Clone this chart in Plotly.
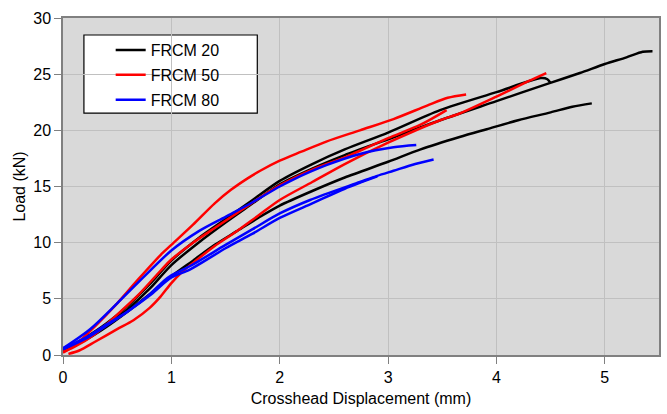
import plotly.graph_objects as go

# FRCM 20 (black) specimens
b1_x = [0, 0.2, 0.4, 0.6, 0.8, 1.0, 1.25, 1.5, 1.75, 2.0, 2.3, 2.6, 3.0, 3.48, 4.0, 4.49, 4.77, 5.0, 5.2, 5.35, 5.44]
b1_y = [0.5, 1.4, 2.6, 4.1, 5.9, 8.0, 10.0, 11.8, 13.5, 15.2, 16.6, 17.8, 19.2, 20.9, 22.6, 24.2, 25.1, 25.9, 26.5, 27.0, 27.05]
b2_x = [0, 0.2, 0.4, 0.6, 0.8, 1.0, 1.2, 1.4, 1.6, 1.8, 2.0, 2.3, 2.6, 3.0, 3.3, 3.66, 3.91, 4.2, 4.5, 4.7, 4.88]
b2_y = [0.4, 1.3, 2.5, 3.9, 5.4, 7.0, 8.4, 9.8, 11.0, 12.2, 13.3, 14.6, 15.8, 17.2, 18.3, 19.4, 20.1, 20.9, 21.6, 22.1, 22.4]
b3_x = [0, 0.2, 0.4, 0.6, 0.8, 1.0, 1.25, 1.5, 1.75, 2.0, 2.3, 2.6, 3.0, 3.48, 4.0, 4.41, 4.47, 4.5]
b3_y = [0.4, 1.5, 2.8, 4.4, 6.3, 8.4, 10.4, 12.1, 13.8, 15.5, 17.0, 18.3, 19.8, 21.8, 23.4, 24.65, 24.55, 24.2]

# FRCM 50 (red) specimens
r1_x = [0, 0.1, 0.3, 0.5, 0.7, 0.9, 1.0, 1.2, 1.4, 1.55, 1.7, 1.82, 2.0, 2.2, 2.43, 2.74, 3.05, 3.36, 3.55, 3.72]
r1_y = [0.2, 0.8, 2.6, 4.6, 6.8, 8.9, 9.8, 11.6, 13.5, 14.7, 15.7, 16.4, 17.3, 18.1, 19.0, 20.0, 21.0, 22.2, 22.9, 23.2]
r2_x = [0, 0.1, 0.3, 0.5, 0.7, 0.9, 1.0, 1.2, 1.4, 1.6, 1.8, 2.0, 2.3, 2.6, 3.0, 3.3, 3.54]
r2_y = [0.3, 0.7, 1.9, 3.6, 5.4, 7.5, 8.5, 10.0, 11.3, 12.6, 13.9, 15.1, 16.5, 17.6, 19.3, 20.5, 21.8]
r3_x = [0.05, 0.15, 0.3, 0.5, 0.65, 0.8, 0.9, 1.0, 1.1, 1.2, 1.4, 1.6, 1.8, 2.0, 2.3, 2.6, 3.0, 3.48, 3.66, 4.0, 4.3, 4.46]
r3_y = [0.1, 0.4, 1.2, 2.3, 3.1, 4.2, 5.2, 6.4, 7.4, 8.2, 9.7, 11.0, 12.4, 13.8, 15.4, 17.0, 18.9, 20.9, 21.5, 23.0, 24.4, 25.1]

# FRCM 80 (blue) specimens
u1_x = [0, 0.25, 0.5, 0.75, 1.0, 1.25, 1.5, 1.75, 2.0, 2.12, 2.43, 2.74, 3.05, 3.26]
u1_y = [0.6, 2.3, 4.6, 7.0, 9.3, 11.0, 12.3, 13.6, 15.0, 15.6, 16.9, 17.9, 18.5, 18.7]
u2_x = [0, 0.2, 0.4, 0.6, 0.8, 0.93, 1.0, 1.17, 1.5, 1.75, 2.0, 2.28, 2.74, 2.9, 3.05, 3.25, 3.42]
u2_y = [0.6, 1.5, 2.7, 3.9, 5.4, 6.6, 7.1, 7.9, 9.8, 11.2, 12.6, 13.8, 15.4, 15.95, 16.4, 17.0, 17.4]
u3_x = [0, 0.2, 0.4, 0.6, 0.8, 1.0, 1.17, 1.5, 1.75, 2.0, 2.3, 2.6, 2.9]
u3_y = [0.5, 1.4, 2.6, 3.9, 5.3, 6.9, 7.6, 9.5, 10.8, 12.2, 13.5, 14.8, 15.9]

series = [
    ("FRCM 20", "#000000", [(b1_x, b1_y), (b2_x, b2_y), (b3_x, b3_y)]),
    ("FRCM 50", "#ff0000", [(r1_x, r1_y), (r2_x, r2_y), (r3_x, r3_y)]),
    ("FRCM 80", "#0000ff", [(u1_x, u1_y), (u2_x, u2_y), (u3_x, u3_y)]),
]

x_ticks = [0, 1, 2, 3, 4, 5]
y_ticks = [0, 5, 10, 15, 20, 25, 30]

fig = go.Figure()
for name, color, curves in series:
    for i, (xs, ys) in enumerate(curves):
        fig.add_trace(go.Scatter(
            x=xs, y=ys, mode="lines", name=name, legendgroup=name,
            showlegend=(i == 0),
            line=dict(color=color, width=2.5, shape="spline", smoothing=0.8),
        ))

font = dict(family="Liberation Sans, Arial, sans-serif", size=16, color="#000000")

fig.update_layout(
    width=667, height=414,
    margin=dict(l=63, r=6, t=18, b=59),
    paper_bgcolor="#ffffff",
    plot_bgcolor="#d9d9d9",
    font=font,
    showlegend=True,
    legend=dict(
        x=0.080, y=0.955, xanchor="left", yanchor="top",
        bgcolor="rgba(0,0,0,0)", borderwidth=0,
        tracegroupgap=1, font=font, itemwidth=30,
    ),
    shapes=[dict(
        type="rect", xref="paper", yref="paper",
        x0=0.0351, x1=0.326, y0=0.718, y1=0.9496,
        fillcolor="#ffffff", line=dict(color="#000000", width=1.2),
        layer="between",
    )],
)

fig.update_xaxes(
    range=[0, 5.5], tickvals=x_ticks, ticktext=[str(v) for v in x_ticks],
    showgrid=True, gridcolor="#c0c0c0", gridwidth=1, zeroline=False,
    showline=True, linecolor="#808080", linewidth=1.5, mirror=True,
    ticks="outside", ticklen=7, tickcolor="#808080",
    title=dict(text="Crosshead Displacement (mm)", font=font, standoff=8),
    tickfont=font,
)
fig.update_yaxes(
    range=[0, 30], tickvals=y_ticks, ticktext=[str(v) for v in y_ticks],
    showgrid=True, gridcolor="#c0c0c0", gridwidth=1, zeroline=False,
    showline=True, linecolor="#808080", linewidth=1.5, mirror=True,
    ticks="outside", ticklen=7, tickcolor="#808080",
    title=dict(text="Load (kN)", font=font, standoff=4),
    tickfont=font,
)

fig.write_html("out.html")
